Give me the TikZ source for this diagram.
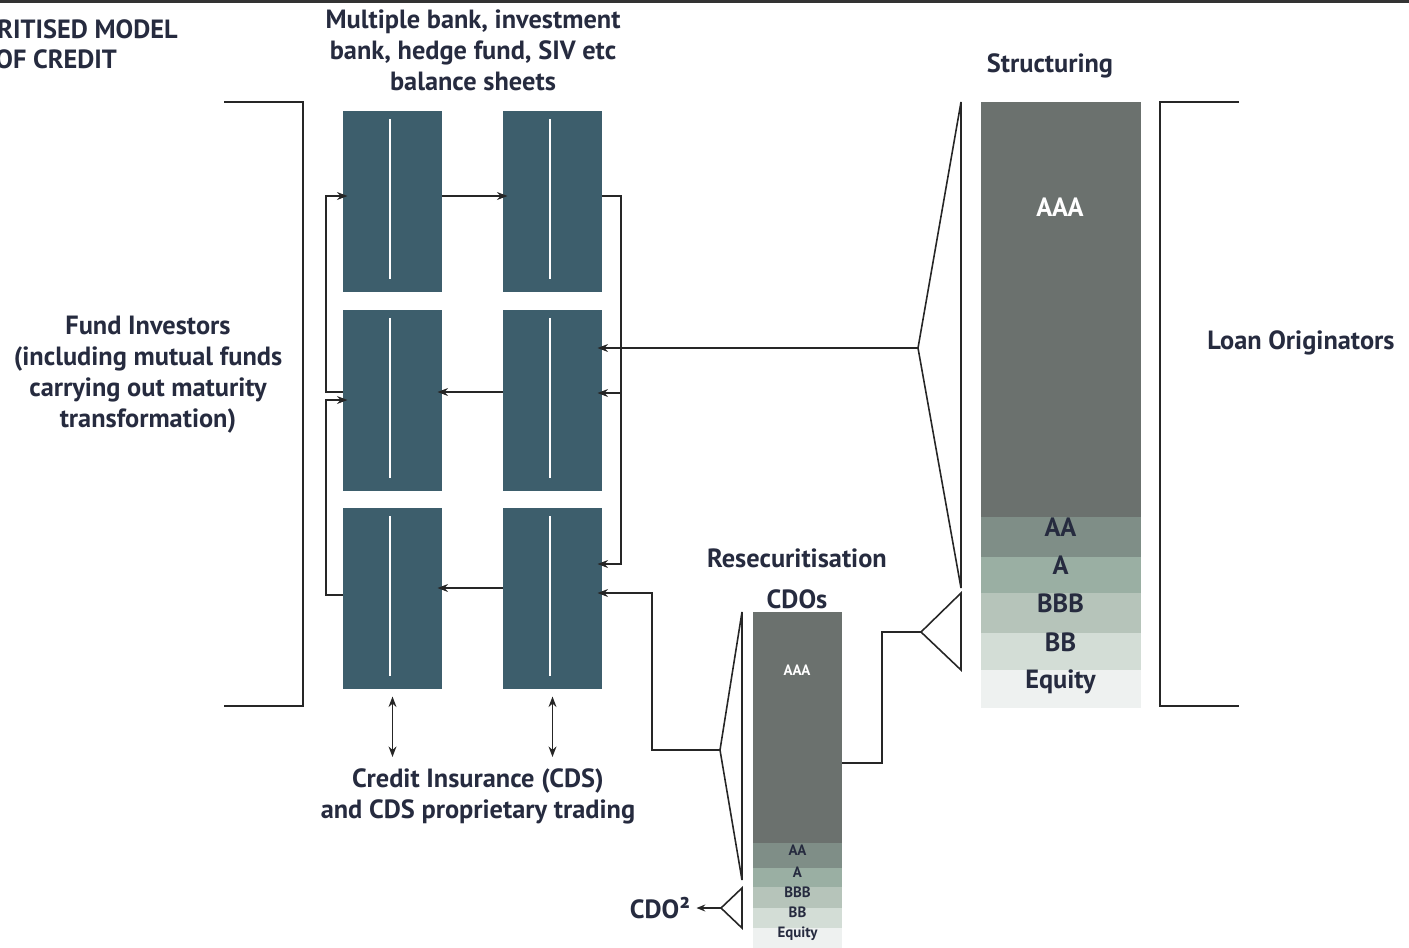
\documentclass[tikz,border=0pt]{standalone}
\usepackage{fontspec}
\setmainfont{PT Sans}
\usetikzlibrary{arrows.meta, positioning}
\definecolor{bankteal}{HTML}{3D5E6C}
\definecolor{inkblue}{HTML}{262B3F}
\definecolor{rateaaa}{HTML}{6B716E}
\definecolor{rateaa}{HTML}{7F8E87}
\definecolor{ratea}{HTML}{9AAFA3}
\definecolor{ratebbb}{HTML}{B6C4BA}
\definecolor{ratebb}{HTML}{D3DDD6}
\definecolor{rateeq}{HTML}{EEF1F0}

\begin{document}
\begin{tikzpicture}[x=0.02cm, y=-0.02cm,
    txt/.style={font=\fontsize{15}{17.6}\selectfont\bfseries, text=inkblue,
                align=center, inner sep=0pt},
    bank/.style={rectangle, fill=bankteal, minimum width=2cm,
                 minimum height=3.64cm, inner sep=0pt, outer sep=0pt},
    divider/.style={white, line width=1.1pt},
    tranche/.style={rectangle, minimum width=3.2cm, inner sep=0pt, outer sep=0pt,
                    text height=0.2cm, text depth=0.2cm,
                    font=\fontsize{15}{17}\selectfont\bfseries, text=inkblue},
    ctranche/.style={rectangle, minimum width=1.78cm, inner sep=0pt, outer sep=0pt,
                     text height=0.1cm, text depth=0.1cm,
                     font=\fontsize{8.5}{9}\selectfont\bfseries, text=inkblue},
    frame/.style={line width=0.9pt, draw=black!85},
    wire/.style={line width=0.9pt, draw=black!85},
    arr/.style={-{Stealth[length=6pt,width=4.5pt]}, line width=0.9pt,
                draw=black!85, shorten >=-0.1cm},
    dbl/.style={{Stealth[length=6pt,width=4.5pt]}-{Stealth[length=6pt,width=4.5pt]},
                line width=0.9pt, draw=black!85}
  ]
    \useasboundingbox (0,0) rectangle (1409,947);
    \draw[line width=1.6pt, black!80] (0,1.5) -- (1409,1.5);

    % headings
    \node[txt, anchor=west] (ttl1) at (-3,29) {RITISED MODEL};
    \node[txt, anchor=west] (ttl2) at (-5,59) {OF CREDIT};
    \node[txt] (sheets) at (473,50) {Multiple bank, investment\\bank, hedge fund, SIV etc\\balance sheets};
    \node[txt] (fund) at (148,375) {Fund Investors\\(including mutual funds\\carrying out maturity\\transformation)};
    \node[txt] (cds) at (478,796) {Credit Insurance (CDS)\\and CDS proprietary trading};
    \node[txt] (struct) at (1050,66) {Structuring};
    \node[txt] (loans) at (1301,343) {Loan Originators};
    \node[txt] (resec) at (797,558) {Resecuritisation};
    \node[txt] (cdos) at (797,599) {CDOs};
    \node[txt] (cdo2) at (660,908) {CDO²};

    % brackets
    \draw[frame] (224,102) -| (303,706) -- (224,706);
    \draw[frame] (1239,102) -| (1160,706) -- (1239,706);

    % balance sheets
    \node[bank] (b11) at (392.5,201.5) {};
    \node[bank] (b12) at (552.5,201.5) {};
    \node[bank] (b21) at (392.5,400.5) {};
    \node[bank] (b22) at (552.5,400.5) {};
    \node[bank] (b31) at (392.5,598.5) {};
    \node[bank] (b32) at (552.5,598.5) {};
    \foreach \b in {b11,b12,b21,b22,b31,b32}
      \draw[divider] ([xshift=-0.05cm, yshift=-0.17cm]\b.north)
                     -- ([xshift=-0.05cm, yshift=0.26cm]\b.south);

    % structuring tranches
    \node[tranche, fill=rateaaa, minimum height=8.3cm] (s-aaa) at (1060.5,309.5) {};
    \node[tranche, text=white] (s-lab) at (1060,216) {AAA};
    \node[tranche, fill=rateaa, minimum height=0.8cm, below=0pt of s-aaa] (s-aa) {AA};
    \node[tranche, fill=ratea, minimum height=0.72cm, below=0pt of s-aa] (s-a) {A};
    \node[tranche, fill=ratebbb, minimum height=0.8cm, below=0pt of s-a] (s-bbb) {BBB};
    \node[tranche, fill=ratebb, minimum height=0.74cm, below=0pt of s-bbb] (s-bb) {BB};
    \node[tranche, fill=rateeq, minimum height=0.76cm, below=0pt of s-bb] (s-eq) {Equity};

    % CDO tranches
    \node[ctranche, fill=rateaaa, minimum height=4.62cm] (c-aaa) at (797.5,727.5) {};
    \node[ctranche, text=white] (c-lab) at (797,675) {AAA};
    \node[ctranche, fill=rateaa, minimum height=0.5cm, below=0pt of c-aaa] (c-aa) {AA};
    \node[ctranche, fill=ratea, minimum height=0.38cm, below=0pt of c-aa] (c-a) {A};
    \node[ctranche, fill=ratebbb, minimum height=0.42cm, below=0pt of c-a] (c-bbb) {BBB};
    \node[ctranche, fill=ratebb, minimum height=0.4cm, below=0pt of c-bbb] (c-bb) {BB};
    \node[ctranche, fill=rateeq, minimum height=0.4cm, below=0pt of c-bb] (c-eq) {Equity};

    % pooling triangles
    \coordinate (sapex) at (918,348);
    \coordinate (sapex2) at (921,632);
    \coordinate (capex) at (720,750);
    \coordinate (capex2) at (721,908);
    \draw[frame] (961,102) -- (sapex) -- (961,588) -- cycle;
    \draw[frame] (961,593) -- (sapex2) -- (961,670) -- cycle;
    \draw[frame] (742,612) -- (capex) -- (742,880) -- cycle;
    \draw[frame] (742,888) -- (capex2) -- (742,928) -- cycle;

    % flows between balance sheets
    \coordinate (rbus) at (621,393);
    \draw[arr] (b11.east |- 0,196) -- (b12.west |- 0,196);
    \draw[arr] (b12.east |- 0,196) -| (621,564) -- (b32.east |- 0,564);
    \draw[arr] (rbus) -- (b22.east |- rbus);
    \draw[arr] (sapex) -- (b22.east |- sapex);
    \draw[arr] (b22.west |- 0,392) -- (b21.east |- 0,392);
    \draw[arr] (b32.west |- 0,588) -- (b31.east |- 0,588);
    \draw[arr] (b21.west |- 0,392) -| (326,196) -- (b11.west |- 0,196);
    \draw[arr] (b31.west |- 0,595) -| (326,400) -- (b21.west |- 0,400);
    \draw[arr] (capex) -| (652,593) -- (b32.east |- 0,593);
    \draw[wire] (sapex2) -| (882,763) -- (c-aaa.east |- 0,763);
    \draw[-{Stealth[length=5pt,width=4pt]}, line width=0.9pt, draw=black!85,
          shorten >=0.12cm] (capex2) -- (cdo2.east);

    % credit insurance
    \draw[dbl, shorten <=0.14cm, shorten >=0.22cm] (b31.south) -- (b31.south |- cds.north);
    \draw[dbl, shorten <=0.14cm, shorten >=0.22cm] (b32.south) -- (b32.south |- cds.north);
\end{tikzpicture}
\end{document}
